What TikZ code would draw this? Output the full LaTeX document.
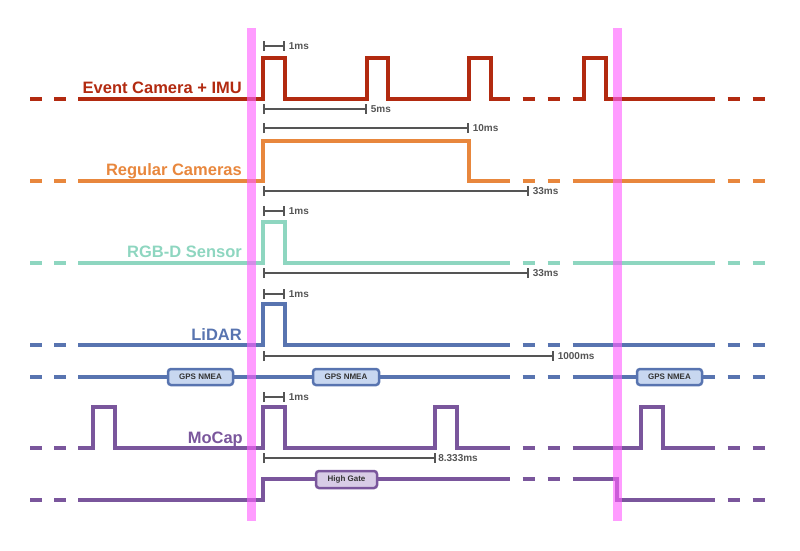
\documentclass[tikz,border=0pt]{standalone}
\usepackage{fontspec}
\setmainfont{Liberation Sans}
\usetikzlibrary{arrows.meta}

\definecolor{evred}{HTML}{B22A10}
\definecolor{camorange}{HTML}{E8873D}
\definecolor{rgbdteal}{HTML}{8ED6C0}
\definecolor{lidarblue}{HTML}{5874B0}
\definecolor{gpsfill}{HTML}{C8D7F0}
\definecolor{mocappurple}{HTML}{7A569C}
\definecolor{gatefill}{HTML}{D8CCE6}
\definecolor{syncpink}{HTML}{FF60FF}
\definecolor{spangray}{HTML}{555555}

\begin{document}
\begin{tikzpicture}[x=1pt,y=-1pt,
    sig/.style={line width=3.5pt},
    lead/.style={sig,dash pattern=on 12pt off 12pt},
    skip/.style={sig,dash pattern=on 12.5pt off 12.5pt,dash phase=12.5pt},
    span/.style={spangray,line width=1.6pt,{Bar[width=10pt]}-{Bar[width=10pt]}},
    spanlabel/.style={text=spangray,font=\bfseries\fontsize{10}{10}\selectfont,anchor=west,inner sep=3pt},
    sensor/.style={font=\bfseries\fontsize{16.5}{16.5}\selectfont,anchor=base east,inner sep=0pt},
    tag/.style={draw,line width=2.5pt,rounded corners=3pt,inner sep=0pt,text=black!80,font=\bfseries\fontsize{8}{8}\selectfont}]
    \useasboundingbox (0,0) rectangle (800,550);

    % event camera + imu
    \draw[evred,lead] (30,99) -- (79,99);
    \draw[evred,sig] (79,99) -- (263,99) |- (285,58) |- (367,99) |- (388,58) |- (469,99) |- (491,58) |- (510,99);
    \draw[evred,skip] (510,99) -- (573,99);
    \draw[evred,sig] (573,99) -- (584,99) |- (606,58) |- (715,99);
    \draw[evred,skip] (715,99) -- (766,99);
    \node (event)[sensor,text=evred] at (242,93) {Event Camera + IMU};

    % regular cameras
    \draw[camorange,lead] (30,181) -- (79,181);
    \draw[camorange,sig] (79,181) -- (263,181) |- (469,141) |- (510,181);
    \draw[camorange,skip] (510,181) -- (573,181);
    \draw[camorange,sig] (573,181) -- (715,181);
    \draw[camorange,skip] (715,181) -- (766,181);
    \node (regular)[sensor,text=camorange] at (242,175) {Regular Cameras};

    % rgb-d
    \draw[rgbdteal,lead] (30,263) -- (79,263);
    \draw[rgbdteal,sig] (79,263) -- (263,263) |- (285,222) |- (510,263);
    \draw[rgbdteal,skip] (510,263) -- (573,263);
    \draw[rgbdteal,sig] (573,263) -- (715,263);
    \draw[rgbdteal,skip] (715,263) -- (766,263);
    \node (rgbd)[sensor,text=rgbdteal] at (242,257) {RGB-D Sensor};

    % lidar
    \draw[lidarblue,lead] (30,345) -- (79,345);
    \draw[lidarblue,sig] (79,345) -- (263,345) |- (285,304) |- (510,345);
    \draw[lidarblue,skip] (510,345) -- (573,345);
    \draw[lidarblue,sig] (573,345) -- (715,345);
    \draw[lidarblue,skip] (715,345) -- (766,345);
    \node (lidar)[sensor,text=lidarblue] at (242,340) {LiDAR};

    % gps
    \draw[lidarblue,lead] (30,377) -- (79,377);
    \draw[lidarblue,sig] (79,377) -- (510,377);
    \draw[lidarblue,skip] (510,377) -- (573,377);
    \draw[lidarblue,sig] (573,377) -- (715,377);
    \draw[lidarblue,skip] (715,377) -- (766,377);
    \node (gps1)[tag,draw=lidarblue,fill=gpsfill,minimum width=65pt,minimum height=16pt] at (200.5,377) {GPS NMEA};
    \node (gps2)[tag,draw=lidarblue,fill=gpsfill,minimum width=66pt,minimum height=16pt] at (346,377) {GPS NMEA};
    \node (gps3)[tag,draw=lidarblue,fill=gpsfill,minimum width=65pt,minimum height=16pt] at (669.5,377) {GPS NMEA};

    % mocap
    \draw[mocappurple,lead] (30,448) -- (79,448);
    \draw[mocappurple,sig] (79,448) -- (93,448) |- (115,407) |- (263,448) |- (285,407) |- (435,448) |- (457,407) |- (510,448);
    \draw[mocappurple,skip] (510,448) -- (573,448);
    \draw[mocappurple,sig] (573,448) -- (641,448) |- (663,407) |- (715,448);
    \draw[mocappurple,skip] (715,448) -- (766,448);
    \node (mocap)[sensor,text=mocappurple] at (243,443) {MoCap};

    % gate
    \draw[mocappurple,lead] (30,500) -- (79,500);
    \draw[mocappurple,sig] (79,500) -- (263,500) |- (510,479);
    \draw[mocappurple,skip] (510,479) -- (573,479);
    \draw[mocappurple,sig] (573,479) -- (617,479) |- (715,500);
    \draw[mocappurple,skip] (715,500) -- (766,500);
    \node (gate)[tag,draw=mocappurple,fill=gatefill,minimum width=61pt,minimum height=17pt] at (346.5,479.5) {High Gate};

    % spans
    \draw[span] (263,46) -- (285,46) node (ev1)[spanlabel] {1ms};
    \draw[span] (263,109) -- (367,109) node (ev5)[spanlabel] {5ms};
    \draw[span] (263,128) -- (469,128) node (cam10)[spanlabel] {10ms};
    \draw[span] (263,191) -- (529,191) node (cam33)[spanlabel] {33ms};
    \draw[span] (263,211) -- (285,211) node (rgbd1)[spanlabel] {1ms};
    \draw[span] (263,273) -- (529,273) node (rgbd33)[spanlabel] {33ms};
    \draw[span] (263,294) -- (285,294) node (lidar1)[spanlabel] {1ms};
    \draw[span] (263,356) -- (554,356) node (lidar1000)[spanlabel] {1000ms};
    \draw[span] (263,397) -- (285,397) node (mocap1)[spanlabel] {1ms};
    \draw[span] (263,458) -- (436,458) node (mocap8)[spanlabel,inner sep=1.5pt] {8.333ms};

    % sync marks
    \fill[syncpink,opacity=0.62] (247,28) rectangle (256,521);
    \fill[syncpink,opacity=0.62] (613,28) rectangle (622,521);
\end{tikzpicture}
\end{document}
